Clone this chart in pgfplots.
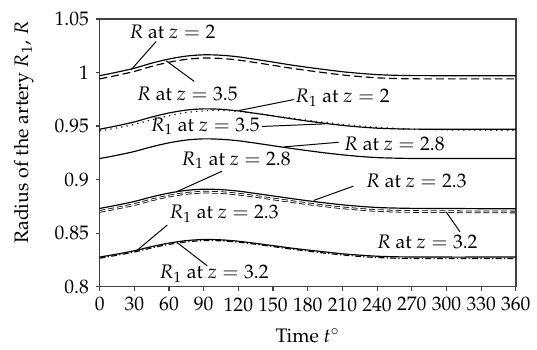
\documentclass[border=0pt]{standalone}
\usepackage[T1]{fontenc}
\usepackage{mathpazo}
\usepackage{pgfplots}
\usepackage{pgfplotstable}
\pgfplotsset{compat=1.18}

\pgfplotstableread{
t    c1     c2     c3     c4     c5     c6     c7     c8     c9
0    0.9970 0.9940 0.9470 0.9455 0.9196 0.8730 0.8702 0.8276 0.8266
15   1.0003 0.9973 0.9502 0.9482 0.9227 0.8761 0.8733 0.8304 0.8293
30   1.0040 1.0010 0.9538 0.9515 0.9262 0.8795 0.8767 0.8335 0.8323
45   1.0087 1.0057 0.9584 0.9558 0.9306 0.8838 0.8810 0.8374 0.8362
60   1.0126 1.0096 0.9622 0.9595 0.9343 0.8874 0.8846 0.8407 0.8395
75   1.0153 1.0123 0.9649 0.9626 0.9369 0.8899 0.8871 0.8430 0.8418
90   1.0165 1.0135 0.9660 0.9642 0.9380 0.8910 0.8882 0.8440 0.8430
105  1.0161 1.0131 0.9656 0.9645 0.9376 0.8906 0.8878 0.8437 0.8428
120  1.0146 1.0116 0.9641 0.9636 0.9362 0.8892 0.8864 0.8424 0.8415
135  1.0122 1.0092 0.9618 0.9618 0.9340 0.8870 0.8842 0.8404 0.8396
150  1.0097 1.0067 0.9594 0.9597 0.9316 0.8847 0.8819 0.8383 0.8374
165  1.0071 1.0041 0.9569 0.9575 0.9292 0.8824 0.8796 0.8361 0.8352
180  1.0048 1.0018 0.9546 0.9553 0.9270 0.8802 0.8774 0.8342 0.8332
195  1.0027 0.9997 0.9525 0.9533 0.9249 0.8782 0.8754 0.8324 0.8313
210  1.0007 0.9977 0.9506 0.9515 0.9231 0.8764 0.8736 0.8307 0.8296
225  0.9992 0.9962 0.9491 0.9500 0.9216 0.8750 0.8722 0.8294 0.8282
240  0.9980 0.9950 0.9480 0.9488 0.9205 0.8739 0.8711 0.8284 0.8272
255  0.9974 0.9944 0.9474 0.9478 0.9200 0.8734 0.8705 0.8279 0.8266
270  0.9971 0.9941 0.9471 0.9471 0.9197 0.8731 0.8702 0.8277 0.8263
300  0.9970 0.9940 0.9470 0.9464 0.9196 0.8730 0.8700 0.8276 0.8262
330  0.9970 0.9940 0.9470 0.9461 0.9196 0.8728 0.8698 0.8276 0.8262
360  0.9970 0.9940 0.9470 0.9460 0.9196 0.8727 0.8697 0.8276 0.8262
}\data

\begin{document}
\begin{tikzpicture}
\begin{axis}[
  scale only axis, width=213pt, height=137pt,
  xmin=0, xmax=360, ymin=0.8, ymax=1.05,
  xtick={0,30,...,360}, ytick={0.8,0.85,0.9,0.95,1,1.05},
  tick align=outside, xtick pos=left, ytick pos=left,
  major tick length=2pt,
  axis line style={black!75, line width=0.7pt},
  every tick/.style={black!75, line width=0.6pt},
  xlabel={Time $t^\circ$},
  ylabel={Radius of the artery $R_1$, $R$},
  xlabel style={at={(axis description cs:0.5,0)}, anchor=center, yshift=-25pt},
  ylabel style={at={(axis description cs:-0.182,0.575)}, anchor=center},
  cycle list={{black,solid}},
]
\addplot[black, smooth, line width=0.6pt] table[x=t,y=c1] {\data};
\addplot[black, smooth, line width=0.6pt, dash pattern=on 4pt off 2pt] table[x=t,y=c2] {\data};
\addplot[black, smooth, line width=0.6pt] table[x=t,y=c3] {\data};
\addplot[black, smooth, line width=0.6pt, dash pattern=on 0.6pt off 2.2pt] table[x=t,y=c4] {\data};
\addplot[black, smooth, line width=0.6pt] table[x=t,y=c5] {\data};
\addplot[black, smooth, line width=0.6pt] table[x=t,y=c6] {\data};
\addplot[black, smooth, line width=0.4pt, double=white, double distance=0.5pt, dash pattern=on 3pt off 1.5pt] table[x=t,y=c7] {\data};
\addplot[black, smooth, line width=0.6pt] table[x=t,y=c8] {\data};
\addplot[black, smooth, line width=0.6pt, dash pattern=on 3pt off 1.2pt on 0.6pt off 1.2pt] table[x=t,y=c9] {\data};

\draw[line width=0.5pt] (axis cs:48.8,1.0289) -- (axis cs:27.3,1.0026);
\draw[line width=0.5pt] (axis cs:81.8,0.9917) -- (axis cs:57.4,1.0110);
\draw[line width=0.5pt] (axis cs:168,0.9747) -- (axis cs:120.6,0.9645);
\draw[line width=0.5pt] (axis cs:140.4,0.9496) -- (axis cs:195,0.9520);
\draw[line width=0.5pt] (axis cs:105.9,0.9078) -- (axis cs:66.3,0.8885);
\draw[line width=0.5pt] (axis cs:206.7,0.9348) -- (axis cs:159.3,0.9305);
\draw[line width=0.5pt] (axis cs:219.6,0.8939) -- (axis cs:185.2,0.8805);
\draw[line width=0.5pt] (axis cs:311.7,0.8511) -- (axis cs:299.7,0.8699);
\draw[line width=0.5pt] (axis cs:58.6,0.8576) -- (axis cs:31.9,0.8335);
\draw[line width=0.5pt] (axis cs:93,0.8195) -- (axis cs:67.2,0.8410);

\node at (axis cs:62.9,1.0375) {$R$ at $z=2$};
\node at (axis cs:75.8,0.9803) {$R$ at $z=3.5$};
\node at (axis cs:210,0.9766) {$R_1$ at $z=2$};
\node at (axis cs:91.3,0.9496) {$R_1$ at $z=3.5$};
\node at (axis cs:118,0.918) {$R_1$ at $z=2.8$};
\node at (axis cs:254.9,0.9329) {$R$ at $z=2.8$};
\node at (axis cs:273.9,0.8985) {$R$ at $z=2.3$};
\node at (axis cs:283.3,0.8418) {$R$ at $z=3.2$};
\node at (axis cs:107.6,0.8678) {$R_1$ at $z=2.3$};
\node at (axis cs:99,0.812) {$R_1$ at $z=3.2$};
\end{axis}
\path (current axis.south west) ++(-51pt,-31.6pt) rectangle ([shift={(9.7pt,9.7pt)}]current axis.north east);
\end{tikzpicture}
\end{document}
